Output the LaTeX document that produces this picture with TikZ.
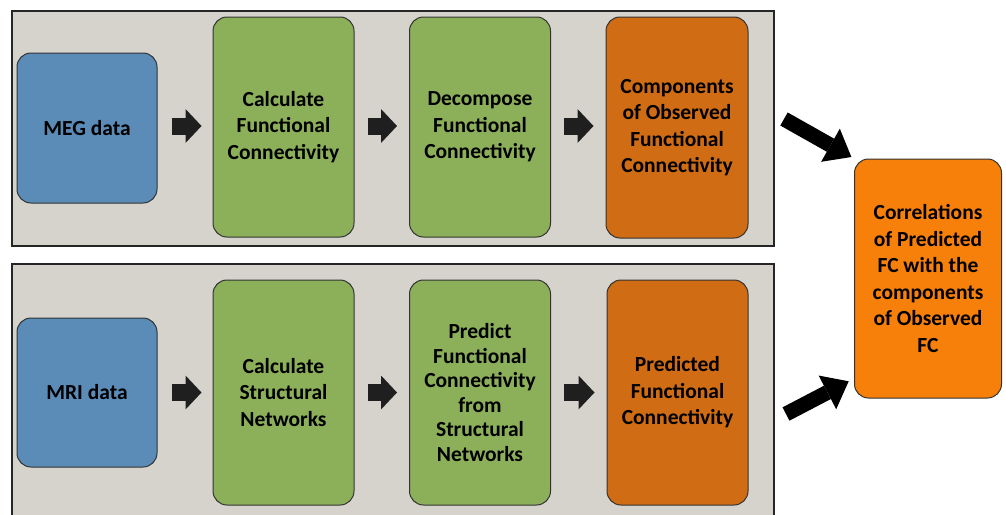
\documentclass[tikz,border=0pt]{standalone}
\usepackage{fontspec}
\setmainfont{Carlito}
\usetikzlibrary{arrows.meta}
\definecolor{panelgray}{RGB}{214,211,205}
\definecolor{megblue}{RGB}{91,139,183}
\definecolor{stepgreen}{RGB}{140,175,90}
\definecolor{fcorange}{RGB}{207,108,20}
\definecolor{corrorange}{RGB}{246,128,10}
\tikzset{
  panel/.style={draw=black!85, line width=1.8pt, fill=panelgray, inner sep=0pt},
  stage/.style={draw=black!80, line width=1pt, rounded corners=14pt, inner sep=2pt,
    align=center, text=black, font=\fontsize{21.5}{26.5}\selectfont\bfseries},
  flow/.style={line width=17pt, color=black!88,
    -{Triangle[length=16pt,width=34pt,line width=0pt]}},
  merge/.style={line width=15pt, color=black,
    -{Triangle[length=24pt,width=38pt,line width=0pt]}}
}
\begin{document}
\begin{tikzpicture}[x=1pt, y=-1pt]
    \useasboundingbox (0,0) rectangle (1006,514);
    \clip (0,0) rectangle (1006,514);
    \node[panel, minimum width=762pt, minimum height=235pt] (toppanel) at (393,128.5) {};
    \node[panel, minimum width=762pt, minimum height=266pt] (botpanel) at (393,397) {};

    \node[stage, fill=megblue, minimum width=140pt, minimum height=150pt] (meg) at (87,128) {MEG data};
    \node[stage, fill=stepgreen, minimum width=141pt, minimum height=220pt] (calcfc) at (283.5,127) {Calculate\\Functional\\Connectivity};
    \node[stage, fill=stepgreen, minimum width=141pt, minimum height=220pt] (decomp) at (480,127) {Decompose\\Functional\\Connectivity};
    \node[stage, fill=fcorange, minimum width=142pt, minimum height=221pt] (obsfc) at (677,127.5) {Components\\of Observed\\Functional\\Connectivity};

    \node[stage, fill=megblue, minimum width=140pt, minimum height=149pt] (mri) at (87,392.5) {MRI data};
    \node[stage, fill=stepgreen, minimum width=141pt, minimum height=225pt] (calcsn) at (283.5,392.5) {Calculate\\Structural\\Networks};
    \node[stage, fill=stepgreen, minimum width=141pt, minimum height=225pt, font=\fontsize{21.5}{24.5}\selectfont\bfseries] (predict) at (480,392.5) {Predict\\Functional\\Connectivity\\from\\Structural\\Networks};
    \node[stage, fill=fcorange, minimum width=141pt, minimum height=225pt] (predfc) at (677.5,392.5) {Predicted\\Functional\\Connectivity};

    \node[stage, fill=corrorange, minimum width=147pt, minimum height=239pt] (corr) at (928,278.5) {Correlations\\of Predicted\\FC with the\\components\\of Observed\\FC};

    \draw[flow, shorten <=14pt, shorten >=11pt] (meg.east |- 0,126) -- (calcfc.west |- 0,126);
    \draw[flow, shorten <=13pt, shorten >=12pt] (calcfc.east |- 0,126) -- (decomp.west |- 0,126);
    \draw[flow, shorten <=13pt, shorten >=12pt] (decomp.east |- 0,126) -- (obsfc.west |- 0,126);
    \draw[flow, shorten <=14pt, shorten >=11pt] (mri.east) -- (calcsn.west);
    \draw[flow, shorten <=13pt, shorten >=12pt] (calcsn.east) -- (predict.west);
    \draw[flow, shorten <=13pt, shorten >=12pt] (predict.east) -- (predfc.west);

    \coordinate (obsout) at (784,119);
    \coordinate (predout) at (786,414);
    \draw[merge, shorten >=3pt] (obsout) -- (corr.north west);
    \draw[merge, shorten >=6pt] (predout) -- ([yshift=20pt]corr.south west);
  \end{tikzpicture}
\end{document}
